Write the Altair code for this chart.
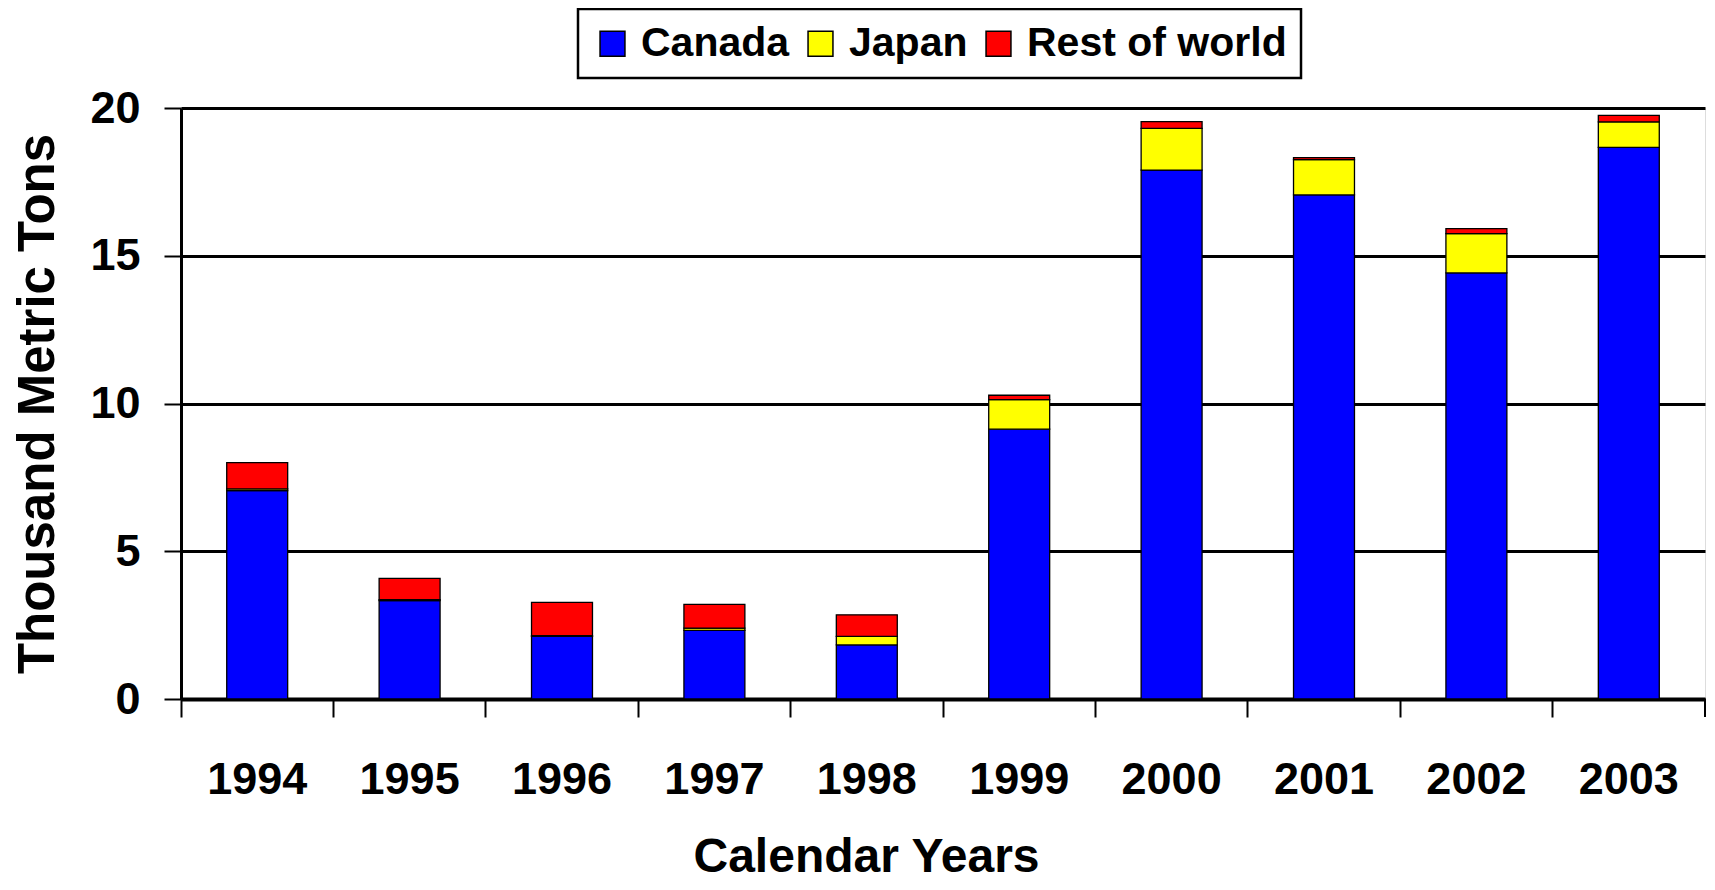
import altair as alt
import pandas as pd

years = ["1994", "1995", "1996", "1997", "1998", "1999", "2000", "2001", "2002", "2003"]
countries = ["Canada", "Japan", "Rest of world"]
colors = ["#0000FF", "#FFFF00", "#FF0000"]
canada = [7.05, 3.33, 2.12, 2.32, 1.83, 9.13, 17.90, 17.06, 14.42, 18.67]
japan = [0.06, 0.03, 0.02, 0.08, 0.29, 1.00, 1.41, 1.19, 1.33, 0.86]
rest = [0.89, 0.72, 1.13, 0.80, 0.73, 0.15, 0.23, 0.07, 0.17, 0.22]

rows = []
for series_idx, (name, vals) in enumerate(zip(countries, [canada, japan, rest])):
    for yr, v in zip(years, vals):
        rows.append({"year": yr, "country": name, "value": v, "idx": series_idx})
df = pd.DataFrame(rows)

W, H = 1524, 591
FONT = "Liberation Sans"

bars = alt.Chart(df).mark_bar(
    width=alt.RelativeBandSize(0.4), stroke="black", strokeWidth=1.3
).encode(
    x=alt.X(
        "year:N", sort=years,
        scale=alt.Scale(paddingInner=0, paddingOuter=0),
        axis=alt.Axis(
            title="Calendar Years", labelAngle=0, bandPosition=0,
            labelFontSize=45, labelFontWeight="bold", labelColor="black",
            labelPadding=40, tickSize=18, tickWidth=2, tickColor="black",
            domainColor="black", domainWidth=4, grid=False,
            titleFontSize=48, titleFontWeight="bold", titleColor="black",
            titlePadding=31, titleX=685, titleAlign="center",
        ),
    ),
    y=alt.Y(
        "value:Q", stack="zero",
        scale=alt.Scale(domain=[0, 20], nice=False),
        axis=alt.Axis(
            title="Thousand Metric Tons", values=[0, 5, 10, 15, 20],
            labelFontSize=45, labelFontWeight="bold", labelColor="black",
            labelPadding=24, tickSize=17, tickWidth=2, tickColor="black",
            domainColor="black", domainWidth=3,
            grid=True, gridColor="black", gridWidth=3, gridOpacity=1,
            titleFontSize=51, titleFontWeight="bold", titleColor="black",
            titlePadding=25,
        ),
    ),
    color=alt.Color(
        "country:N", title=None,
        scale=alt.Scale(domain=countries, range=colors),
        legend=alt.Legend(
            orient="none", legendX=397, legendY=-99, direction="horizontal",
            strokeColor="black", fillColor="white", padding=14,
            labelFontSize=41, labelFontWeight="bold", labelColor="black",
            symbolType="square", symbolSize=620, symbolStrokeColor="black",
            symbolStrokeWidth=1.5, columnPadding=10, labelOffset=8,
            labelLimit=400,
        ),
    ),
    order=alt.Order("idx:Q", sort="ascending"),
)

end_tick = alt.Chart(pd.DataFrame({"a": [0]})).mark_rule(
    color="black", strokeWidth=2
).encode(x=alt.value(W), y=alt.value(H), y2=alt.value(H + 18))

chart = alt.layer(bars, end_tick).properties(
    width=W, height=H,
    padding={"left": 173, "top": 100, "right": 2, "bottom": 183},
    autosize=alt.AutoSizeParams(type="none"),
).configure_view(stroke="black", strokeWidth=2).configure(
    font=FONT
).configure_legend(strokeWidth=2.5)

chart.save("out.html", embed_options={"renderer": "svg", "actions": False})
